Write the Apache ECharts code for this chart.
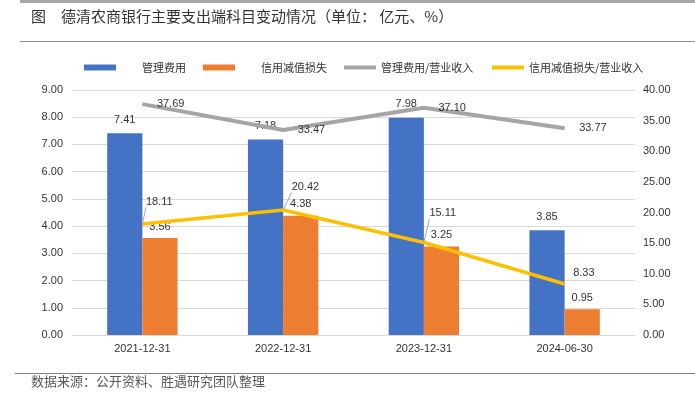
<!DOCTYPE html>
<html>
<head>
<meta charset="utf-8">
<script src="https://cdn.jsdelivr.net/npm/echarts@6/dist/echarts.min.js"></script>
<style>
  html, body { margin: 0; padding: 0; background: #fff; }
  #chart-container { width: 695px; height: 396px; }
</style>
</head>
<body>
<div id="chart-container"></div>
<script>
// 数据
const categories = ['2021-12-31', '2022-12-31', '2023-12-31', '2024-06-30'];
const mgmtCost = [7.41, 7.18, 7.98, 3.85];          // 管理费用（亿元）
const creditLoss = [3.56, 4.38, 3.25, 0.95];        // 信用减值损失（亿元）
const mgmtRatio = [37.69, 33.47, 37.10, 33.77];     // 管理费用/营业收入（%）
const creditRatio = [18.11, 20.42, 15.11, 8.33];    // 信用减值损失/营业收入（%）
const leftTicks = [0, 9, 1];
const rightTicks = [0, 40, 5];

const numFont = 'Liberation Sans';
const cjkFont = 'Noto Sans CJK SC';

// 黄线标签位置（相对数据点的偏移）
const creditLabelPos = [
  { distance: 3, offset: [0, -22], guide: true },
  { distance: 8, offset: [0, -23], guide: true },
  { distance: 5, offset: [0, -29], guide: true },
  { distance: 8, offset: [0, -11], guide: false }
];

const chart = echarts.init(document.getElementById('chart-container'));

const legendBase = {
  top: 57,
  itemWidth: 32,
  icon: 'rect',
  textStyle: { fontSize: 11, color: '#333', fontFamily: cjkFont }
};

const option = {
  animation: false,
  textStyle: { fontFamily: numFont },
  graphic: [
    { type: 'rect', shape: { x: 20, y: 0, width: 675, height: 3 }, style: { fill: '#a6a6a6' } },
    { type: 'text', left: 31, top: 9, style: { text: '图', font: '15px "Noto Sans CJK SC"', fill: '#333' } },
    { type: 'text', left: 61, top: 9, style: { text: '德清农商银行主要支出端科目变动情况（单位： 亿元、%）', font: '15px "Noto Sans CJK SC"', fill: '#333' } },
    { type: 'line', shape: { x1: 20, y1: 41.5, x2: 695, y2: 41.5 }, style: { stroke: '#8c8c8c', lineWidth: 1 } },
    { type: 'line', shape: { x1: 15, y1: 373.5, x2: 695, y2: 373.5 }, style: { stroke: '#7f7f7f', lineWidth: 1 } },
    { type: 'text', left: 31, top: 375, style: { text: '数据来源：公开资料、胜遇研究团队整理', font: '13px "Noto Sans CJK SC"', fill: '#595959' } }
  ],
  legend: [
    Object.assign({}, legendBase, { left: 79, itemHeight: 6, data: ['管理费用'],
      textStyle: Object.assign({}, legendBase.textStyle, { padding: [0, 0, 0, 21] }) }),
    Object.assign({}, legendBase, { left: 198, itemHeight: 6, data: ['信用减值损失'],
      textStyle: Object.assign({}, legendBase.textStyle, { padding: [0, 0, 0, 21] }) }),
    Object.assign({}, legendBase, { left: 339, itemHeight: 4, data: ['管理费用/营业收入'] }),
    Object.assign({}, legendBase, { left: 487, itemHeight: 4, data: ['信用减值损失/营业收入'] })
  ],
  grid: { left: 72, right: 60, top: 90, bottom: 61 },
  xAxis: {
    type: 'category',
    data: categories,
    axisLine: { lineStyle: { color: '#d9d9d9' } },
    axisTick: { show: false },
    axisLabel: { fontSize: 11, color: '#333', margin: 8, fontFamily: numFont }
  },
  yAxis: [
    {
      type: 'value',
      min: leftTicks[0], max: leftTicks[1], interval: leftTicks[2],
      axisLine: { show: false }, axisTick: { show: false },
      axisLabel: { fontSize: 11, color: '#333', margin: 9, formatter: v => v.toFixed(2) },
      splitLine: { lineStyle: { color: '#d9d9d9' } }
    },
    {
      type: 'value',
      min: rightTicks[0], max: rightTicks[1], interval: rightTicks[2],
      axisLine: { show: false }, axisTick: { show: false },
      axisLabel: { fontSize: 11, color: '#333', margin: 8, formatter: v => v.toFixed(2) },
      splitLine: { show: false }
    }
  ],
  series: [
    {
      name: '管理费用',
      type: 'bar',
      data: mgmtCost,
      barGap: '0%',
      barCategoryGap: '50%',
      itemStyle: { color: '#4472c4' },
      label: { show: true, position: 'top', distance: 8, fontSize: 11, color: '#333', formatter: p => p.value.toFixed(2) }
    },
    {
      name: '信用减值损失',
      type: 'bar',
      data: creditLoss,
      itemStyle: { color: '#ed7d31' },
      label: { show: true, position: 'top', distance: 6, fontSize: 11, color: '#333', formatter: p => p.value.toFixed(2) }
    },
    {
      name: '管理费用/营业收入',
      type: 'line',
      yAxisIndex: 1,
      data: mgmtRatio,
      symbol: 'circle',
      symbolSize: 1,
      itemStyle: { color: '#a5a5a5' },
      lineStyle: { color: '#a5a5a5', width: 4 },
      label: { show: true, position: 'right', distance: 14, fontSize: 11, color: '#333', formatter: p => p.value.toFixed(2) }
    },
    {
      name: '信用减值损失/营业收入',
      type: 'line',
      yAxisIndex: 1,
      symbol: 'circle',
      symbolSize: 1,
      itemStyle: { color: '#ffc000' },
      lineStyle: { color: '#ffc000', width: 3.5 },
      data: creditRatio.map((v, i) => ({
        value: v,
        label: { position: 'right', distance: creditLabelPos[i].distance, offset: creditLabelPos[i].offset },
        labelLine: { show: creditLabelPos[i].guide }
      })),
      label: { show: true, fontSize: 11, color: '#333', formatter: p => p.value.toFixed(2) },
      labelLine: { show: true, lineStyle: { color: '#a6a6a6', width: 1 } }
    }
  ]
};

chart.setOption(option);
</script>
</body>
</html>
